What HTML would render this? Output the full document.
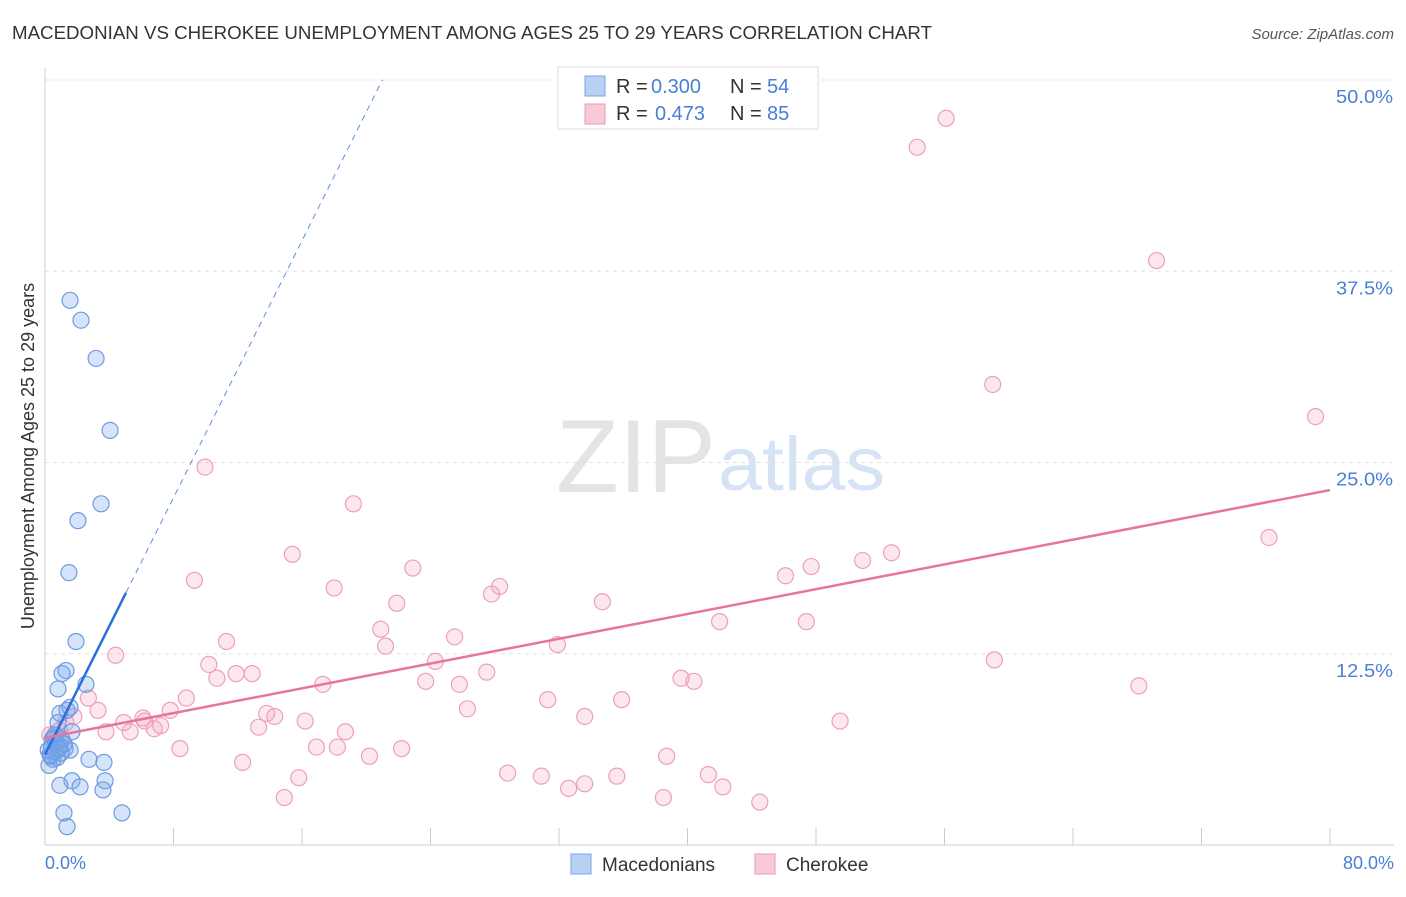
<!DOCTYPE html>
<html><head><meta charset="utf-8">
<style>
body{margin:0;background:#fff;font-family:"Liberation Sans",sans-serif;}
svg text{font-family:"Liberation Sans",sans-serif;}
</style></head>
<body>
<svg id="chart" width="1406" height="892">
<text x="12" y="39" font-size="18" fill="#333" textLength="920" lengthAdjust="spacingAndGlyphs">MACEDONIAN VS CHEROKEE UNEMPLOYMENT AMONG AGES 25 TO 29 YEARS CORRELATION CHART</text>
<text x="1394" y="39" font-size="15" fill="#555" font-style="italic" text-anchor="end">Source: ZipAtlas.com</text>
<text x="716" y="492" font-size="104" fill="#e4e4e4" text-anchor="end" font-family="Liberation Serif" textLength="160" lengthAdjust="spacingAndGlyphs">ZIP</text>
<text x="718" y="490" font-size="76" fill="#d6e3f5" textLength="167" lengthAdjust="spacingAndGlyphs">atlas</text>
<g id="grid"></g>
<g id="axes"></g>
<g id="marks"></g>
<text transform="translate(34,456) rotate(-90)" font-size="18" fill="#333" text-anchor="middle">Unemployment Among Ages 25 to 29 years</text>
<text x="45" y="869" font-size="18" fill="#4a7fd6">0.0%</text>
<text x="1394" y="869" font-size="18" fill="#4a7fd6" text-anchor="end">80.0%</text>
<g>
<rect x="558" y="67" width="260" height="62" fill="#fff" stroke="#ddd"/>
<rect x="585" y="76" width="20" height="20" fill="#b8d1f3" stroke="#7aa3e0"/>
<rect x="585" y="104" width="20" height="20" fill="#f9c9d8" stroke="#e89ab5"/>
<text x="616" y="93" font-size="20" fill="#333">R =</text>
<text x="651" y="93" font-size="20" fill="#4a7fd6">0.300</text>
<text x="730" y="93" font-size="20" fill="#333">N =</text>
<text x="767" y="93" font-size="20" fill="#4a7fd6">54</text>
<text x="616" y="120" font-size="20" fill="#333">R =</text>
<text x="655" y="120" font-size="20" fill="#4a7fd6">0.473</text>
<text x="730" y="120" font-size="20" fill="#333">N =</text>
<text x="767" y="120" font-size="20" fill="#4a7fd6">85</text>
</g>
<g>
<rect x="571" y="854" width="20" height="20" fill="#b8d1f3" stroke="#7aa3e0"/>
<text x="602" y="871" font-size="19" fill="#333">Macedonians</text>
<rect x="755" y="854" width="20" height="20" fill="#f9c9d8" stroke="#e89ab5"/>
<text x="786" y="871" font-size="19" fill="#333">Cherokee</text>
</g>
</svg>
<script>
const yTicks=[12.5,25,37.5,50];
const yTickLabels=["12.5%","25.0%","37.5%","50.0%"];
const blueX=[1.56,2.24,3.18,4.05,3.49,2.05,1.49,1.93,1.31,1.06,0.81,2.55,0.93,1.56,1.37,0.81,1.68,0.62,0.44,0.93,1.25,1.56,0.62,0.31,0.75,0.5,0.25,1.06,2.74,3.67,1.68,3.74,2.18,3.61,0.93,1.18,1.37,4.79,0.4,0.7,1.0,0.2,0.55,1.2,0.35,0.85];
const blueY=[35.6,34.3,31.8,27.1,22.3,21.2,17.8,13.3,11.4,11.2,10.2,10.5,8.6,9.0,8.8,8.0,7.4,7.2,6.9,6.5,6.3,6.2,6.1,5.9,5.7,5.6,5.2,6.9,5.6,5.4,4.2,4.2,3.8,3.6,3.9,2.1,1.2,2.1,6.4,6.7,6.0,6.2,7.0,6.6,5.8,6.3];
const pinkX=[9.96,19.2,54.3,56.1,69.2,59.0,79.1,76.2,15.4,9.3,18.0,22.9,28.3,27.8,21.9,34.7,46.1,47.7,50.9,52.7,42.0,47.4,20.9,25.5,21.2,31.9,11.3,4.4,10.2,24.3,59.1,10.7,11.9,12.9,27.5,17.3,23.7,25.8,39.6,40.4,68.1,8.8,2.7,31.3,35.9,3.3,7.8,13.8,14.3,26.3,33.6,1.8,16.2,49.5,4.9,6.1,6.2,7.2,6.8,13.3,5.3,3.8,18.7,8.4,16.9,18.2,22.2,20.2,38.7,12.3,15.8,28.8,30.9,35.6,41.3,33.6,32.6,42.2,14.9,38.5,44.5,0.9,0.6,0.3,1.3];
const pinkY=[24.7,22.3,45.6,47.5,38.2,30.1,28.0,20.1,19.0,17.3,16.8,18.1,16.9,16.4,15.8,15.9,17.6,18.2,18.6,19.1,14.6,14.6,14.1,13.6,13.0,13.1,13.3,12.4,11.8,12.0,12.1,10.9,11.2,11.2,11.3,10.5,10.7,10.5,10.9,10.7,10.4,9.6,9.6,9.5,9.5,8.8,8.8,8.6,8.4,8.9,8.4,8.4,8.1,8.1,8.0,8.3,8.1,7.8,7.6,7.7,7.4,7.4,7.4,6.3,6.4,6.4,6.3,5.8,5.8,5.4,4.4,4.7,4.5,4.5,4.6,4.0,3.7,3.8,3.1,3.1,2.8,7.5,6.9,7.2,8.0];
const blueTrend=[5.9,2.1];
const pinkTrend=[7.0,0.2025];
const NS="http://www.w3.org/2000/svg";
const xS=v=>45+v*16.0625;
const yS=v=>845-v*15.3;
function mk(tag,attrs,parent){const e=document.createElementNS(NS,tag);for(const k in attrs)e.setAttribute(k,attrs[k]);parent.appendChild(e);return e;}
const grid=document.getElementById('grid'),axes=document.getElementById('axes'),marks=document.getElementById('marks');
yTicks.forEach((t,i)=>{
 const l=mk('line',{x1:45,x2:1394,y1:yS(t),y2:yS(t),stroke:'#e2e2e2','stroke-dasharray':'4,4'},grid);
 
 
 const tx=mk('text',{x:1393,y:yS(t)+23,'font-size':18,fill:'#4a7fd6','text-anchor':'end',textLength:57,lengthAdjust:'spacingAndGlyphs'},grid);
 tx.textContent=yTickLabels[i];
 
 
});
const xa=mk('line',{x1:45,x2:1394,y1:845,y2:845,stroke:'#ccc'},axes);


const ya=mk('line',{x1:45,x2:45,y1:68,y2:845,stroke:'#ccc'},axes);


for(let i=0;i<=10;i++){const t=mk('line',{x1:xS(i*8),x2:xS(i*8),y1:828,y2:845,stroke:'#ccc'},axes);
 
 }
pinkX.forEach((x,i)=>{const c=mk('circle',{cx:xS(x),cy:yS(pinkY[i]),r:8,fill:'rgba(245,160,190,0.25)',stroke:'#eca0ba','stroke-width':1.2},marks);
 
 });
blueX.forEach((x,i)=>{const c=mk('circle',{cx:xS(x),cy:yS(blueY[i]),r:8,fill:'rgba(120,165,235,0.3)',stroke:'#6d9be0','stroke-width':1.2},marks);
 
 });
const xe=(50-blueTrend[0])/blueTrend[1];
const bd=mk('line',{x1:xS(5.04),y1:yS(blueTrend[0]+blueTrend[1]*5.04),x2:xS(xe),y2:yS(50),stroke:'#5b8fe0','stroke-dasharray':'6,5','stroke-width':1},marks);


const bs=mk('line',{x1:xS(0),y1:yS(blueTrend[0]),x2:xS(5.04),y2:yS(blueTrend[0]+blueTrend[1]*5.04),stroke:'#2a6fdb','stroke-width':2.5},marks);


const pl=mk('line',{x1:xS(0),y1:yS(pinkTrend[0]),x2:xS(80),y2:yS(pinkTrend[0]+pinkTrend[1]*80),stroke:'#e8739c','stroke-width':2.5},marks);


</script>
</body></html>
